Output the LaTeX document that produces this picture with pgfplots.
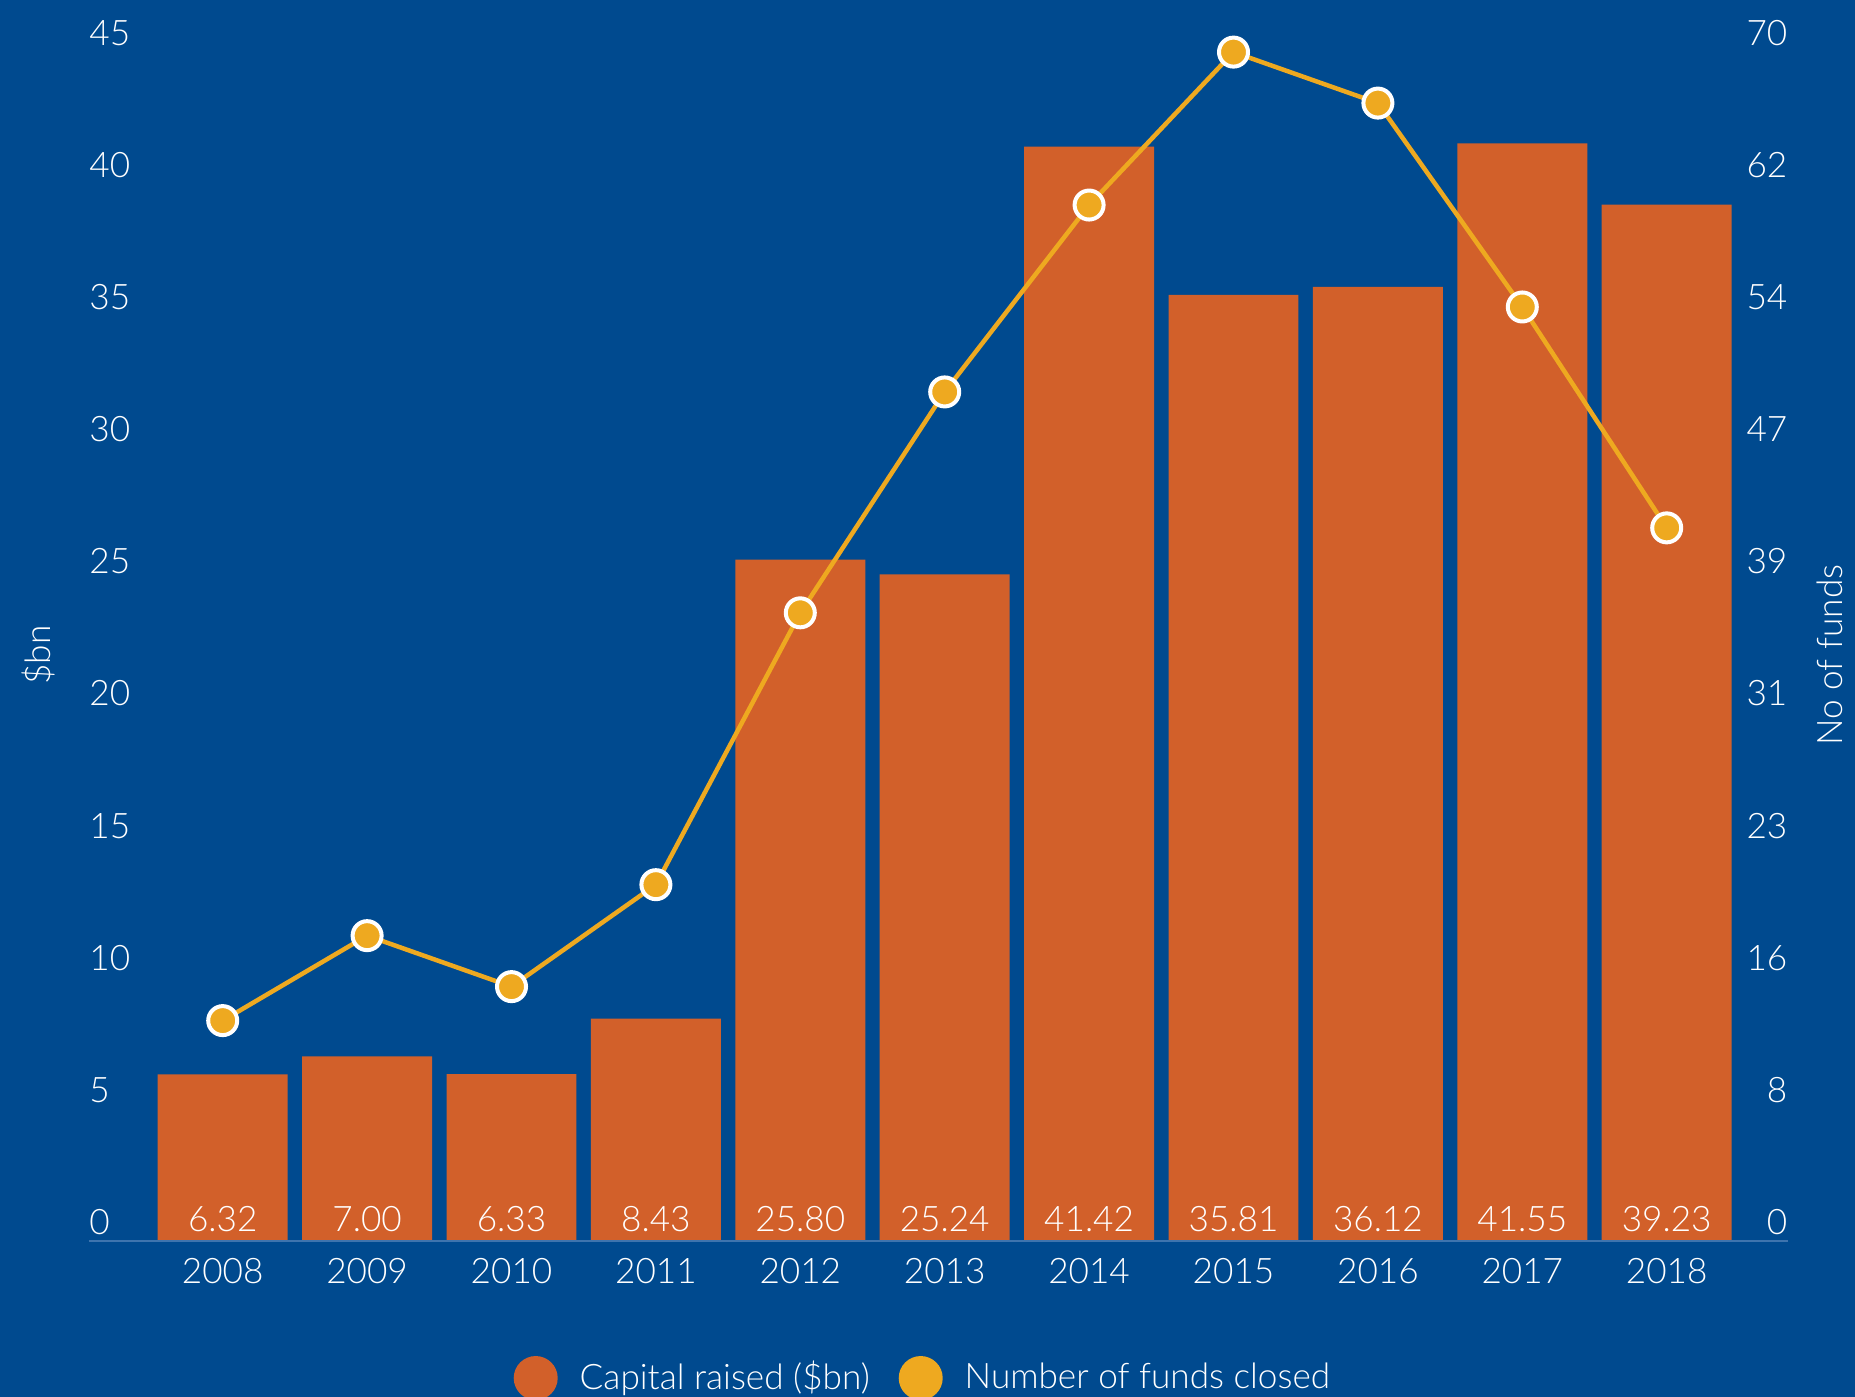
\documentclass[border=0pt]{standalone}
\usepackage{fontspec}
\setmainfont{Lato}[UprightFont={* Light}]
\usepackage{pgfplots}
\usepackage{pgfplotstable}
\pgfplotsset{compat=1.18}

\definecolor{bgblue}{HTML}{004A8F}
\definecolor{barorange}{HTML}{D2602A}
\definecolor{lineyellow}{HTML}{EEA920}
\definecolor{axisblue}{HTML}{3E74AE}

\pgfplotstableread{
x year cap funds
0 2008 6.32 13
1 2009 7.00 18
2 2010 6.33 15
3 2011 8.43 21
4 2012 25.80 37
5 2013 25.24 50
6 2014 41.42 61
7 2015 35.81 70
8 2016 36.12 67
9 2017 41.55 55
10 2018 39.23 42
}\datatable

\begin{document}
\fontsize{10}{12}\selectfont
\begin{tikzpicture}
\useasboundingbox (0,0) rectangle (185.5mm,139.7mm);
\clip (0,0) rectangle (185.5mm,139.7mm);
\fill[bgblue] (0,0) rectangle (185.5mm,139.7mm);

% bars, left axis ($bn)
\begin{axis}[
	at={(8.87mm,15.55mm)}, anchor=south west,
	scale only axis, width=169.93mm, height=118.94mm,
	xmin=-0.928, xmax=10.84, ymin=0, ymax=45,
	ybar, bar width=0.9, bar shift=0pt,
	axis on top,
	axis x line=bottom, axis y line=left,
	x axis line style={draw=axisblue, line width=0.2mm, -},
	y axis line style={draw=none},
	major tick length=0pt,
	xtick={0,...,10},
	xticklabels from table={\datatable}{year},
	ytick={0,5,...,45},
	tick label style={white, /pgf/number format/assume math mode=true},
	yticklabel style={anchor=base west, inner sep=0pt, yshift=0.7mm},
	xticklabel style={anchor=north, inner sep=0pt, yshift=-1.65mm},
	ylabel={\$bn},
	every axis y label/.style={at={(axis description cs:-0.0298,0.493)}, rotate=90, anchor=center, white},
	visualization depends on={y \as \rawy},
	nodes near coords={\pgfmathprintnumber[fixed,fixed zerofill,precision=2,assume math mode=true]{\pgfplotspointmeta}},
	every node near coord/.append style={white, anchor=base, inner sep=0pt, shift={(axis direction cs:0,-\rawy)}, yshift=0.95mm},
	]
	\addplot[fill=barorange, draw=none] table[x=x, y=cap]{\datatable};
\end{axis}

% line, right axis (no of funds)
\begin{axis}[
	at={(8.87mm,15.55mm)}, anchor=south west,
	scale only axis, width=169.93mm, height=118.94mm,
	xmin=-0.928, xmax=10.84, ymin=0, ymax=70,
	hide x axis,
	axis y line=right,
	y axis line style={draw=none},
	major tick length=0pt,
	ytick={0,7.7778,15.5556,23.3333,31.1111,38.8889,46.6667,54.4444,62.2222,70},
	yticklabels={0,8,16,23,31,39,47,54,62,70},
	yticklabel style={white, anchor=base east, inner sep=0pt, yshift=0.7mm},
	ylabel={No of funds},
	every axis y label/.style={at={(axis description cs:1.0247,0.493)}, rotate=90, anchor=center, white},
	legend columns=2,
	legend image code/.code={\fill[#1, draw=none] (0mm,0mm) circle (2.2mm);},
	legend style={at={(axis description cs:0.2497,-0.1148)}, anchor=west, draw=none, fill=none, inner sep=0pt, text=white,
		/tikz/every odd column/.append style={column sep=1.5mm},
		/tikz/every even column/.append style={column sep=2.2mm}},
	]
	\addplot[lineyellow, line width=0.45mm, mark=*, mark size=1.45mm,
		mark options={fill=lineyellow, draw=white, line width=0.4mm}, forget plot]
		table[x=x, y=funds]{\datatable};
	\addlegendimage{fill=barorange}
	\addlegendentry{Capital raised (\$bn)}
	\addlegendimage{fill=lineyellow}
	\addlegendentry{Number of funds closed}
\end{axis}
\end{tikzpicture}
\end{document}
